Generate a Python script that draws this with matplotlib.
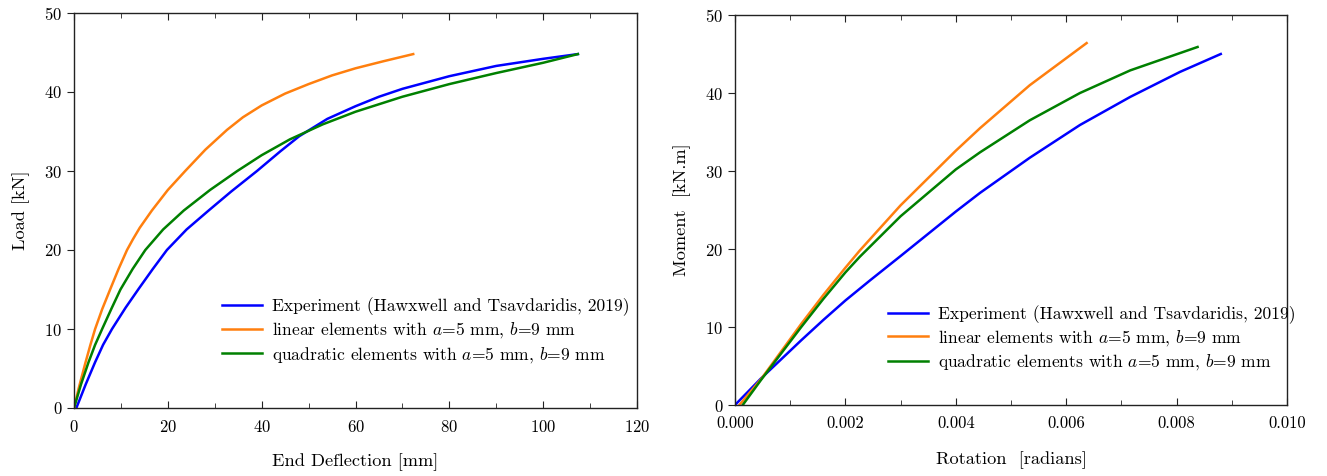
import matplotlib
matplotlib.use("Agg")
import matplotlib.pyplot as plt
from matplotlib.ticker import MultipleLocator, FormatStrFormatter
from matplotlib.lines import Line2D

plt.rcParams['font.family'] = ['cmr10', 'DejaVu Serif']
plt.rcParams['mathtext.fontset'] = 'cm'
plt.rcParams['axes.formatter.use_mathtext'] = True

# Load vs end deflection
defl_exp = [0.5, 2.5, 4.5, 6.2, 8.1, 11.0, 13.8, 16.8, 19.8, 24.0, 28.7, 33.5, 39.0,
            44.0, 48.0, 54, 60, 65, 70, 80, 90, 100, 107.4]
load_exp = [0.0, 3.0, 5.8, 8.0, 10.0, 12.7, 15.1, 17.6, 20.0, 22.6, 25.0, 27.4, 30.0,
            32.5, 34.4, 36.6, 38.2, 39.4, 40.4, 42.0, 43.3, 44.2, 44.8]
defl_lin = [0, 1, 2.4, 3.5, 4.5, 6, 7.7, 9.5, 11.3, 12.6, 14, 16.6, 20, 23.7, 28, 32.6,
            36, 40, 45, 50, 55, 60, 66, 72.3]
load_lin = [0.0, 2.5, 5.65, 8.0, 10.0, 12.5, 15.0, 17.6, 20.0, 21.4, 22.8, 25.0, 27.6,
            30.0, 32.7, 35.2, 36.8, 38.3, 39.8, 41.0, 42.1, 43.0, 43.9, 44.8]
defl_quad = [0, 1.5, 3.1, 4.5, 6.0, 8.0, 9.9, 12.5, 15.2, 19.0, 23.4, 29.0, 34.8,
             40, 46, 53, 60, 70, 80, 90, 100, 107.4]
load_quad = [0.0, 3.0, 5.8, 8.0, 10.0, 12.6, 15.0, 17.6, 20.0, 22.6, 25.0, 27.6, 30.0,
             32.0, 34.0, 35.9, 37.5, 39.4, 41.0, 42.4, 43.7, 44.8]

# Moment vs rotation
rot_exp = [0.0, 0.00047, 0.0012, 0.0016, 0.002, 0.00245, 0.003, 0.004, 0.00444, 0.00534,
           0.00625, 0.00716, 0.00806, 0.0088]
mom_exp = [0.0, 3.4, 8.3, 10.9, 13.4, 16.0, 19.1, 24.8, 27.2, 31.7, 35.9, 39.5, 42.7, 45.0]
rot_lin = [0.00008, 0.00047, 0.0012, 0.0016, 0.002, 0.00226, 0.003, 0.004, 0.00444,
           0.00534, 0.00637]
mom_lin = [0.0, 3.3, 10.4, 14.1, 17.6, 19.8, 25.6, 32.6, 35.5, 41.0, 46.4]
rot_quad = [0.00014, 0.00047, 0.0012, 0.0016, 0.002, 0.00226, 0.003, 0.004, 0.00444,
            0.00534, 0.00625, 0.00716, 0.00838]
mom_quad = [0.0, 3.2, 10.0, 13.6, 17.0, 19.0, 24.2, 30.2, 32.4, 36.5, 40.0, 42.9, 45.9]

labels = [
    'Experiment (Hawxwell and Tsavdaridis, 2019)',
    r'linear elements with $a$=5 mm, $b$=9 mm',
    r'quadratic elements with $a$=5 mm, $b$=9 mm',
]
colors = ['#0000ff', '#ff7f0e', '#008000']

fig = plt.figure(figsize=(13.27, 4.76), dpi=100)
ax1 = fig.add_axes([74/1327, 1-408/476, (637-74)/1327, (408-13)/476])
ax2 = fig.add_axes([735/1327, 1-405/476, (1287-735)/1327, (405-15)/476])


def style(ax):
    for s in ax.spines.values():
        s.set_linewidth(1.0)
        s.set_color('#222222')
    ax.tick_params(axis='x', which='both', direction='in', top=True, bottom=True,
                   labelsize=12, pad=8, color='#222222')
    ax.tick_params(axis='x', which='major', length=5)
    ax.tick_params(axis='x', which='minor', length=3.5)
    ax.tick_params(axis='y', which='major', direction='out', left=True, right=False,
                   length=5, labelsize=12, color='#222222')


for x, y, c in zip([defl_exp, defl_lin, defl_quad], [load_exp, load_lin, load_quad], colors):
    ax1.plot(x, y, color=c, lw=1.8, solid_joinstyle='round')
ax1.set_xlim(0, 120)
ax1.set_ylim(0, 50)
ax1.xaxis.set_major_locator(MultipleLocator(20))
ax1.xaxis.set_minor_locator(MultipleLocator(10))
ax1.yaxis.set_major_locator(MultipleLocator(10))
style(ax1)
ax1.set_xlabel('End Deflection [mm]', fontsize=13.2, labelpad=13)
ax1.set_ylabel('Load [kN]', fontsize=13.2, labelpad=10)

for x, y, c in zip([rot_exp, rot_lin, rot_quad], [mom_exp, mom_lin, mom_quad], colors):
    ax2.plot(x, y, color=c, lw=1.8, solid_joinstyle='round')
ax2.set_xlim(0, 0.010)
ax2.set_ylim(0, 50)
ax2.xaxis.set_major_locator(MultipleLocator(0.002))
ax2.xaxis.set_minor_locator(MultipleLocator(0.001))
ax2.xaxis.set_major_formatter(FormatStrFormatter('%.3f'))
ax2.yaxis.set_major_locator(MultipleLocator(10))
style(ax2)
ax2.set_xlabel('Rotation  [radians]', fontsize=13.2, labelpad=14)
ax2.set_ylabel('Moment  [kN.m]', fontsize=13.2, labelpad=10)

handles = [Line2D([], [], color=c, lw=1.8) for c in colors]
for ax, anchor in [(ax1, (0.263, 0.195)), (ax2, (0.277, 0.17))]:
    ax.legend(handles, labels, loc='center left', bbox_to_anchor=anchor, frameon=False,
              fontsize=12.6, handlelength=2.3, handletextpad=0.57, labelspacing=0.26,
              borderpad=0, borderaxespad=0)

fig.savefig('out.png', dpi=100)
